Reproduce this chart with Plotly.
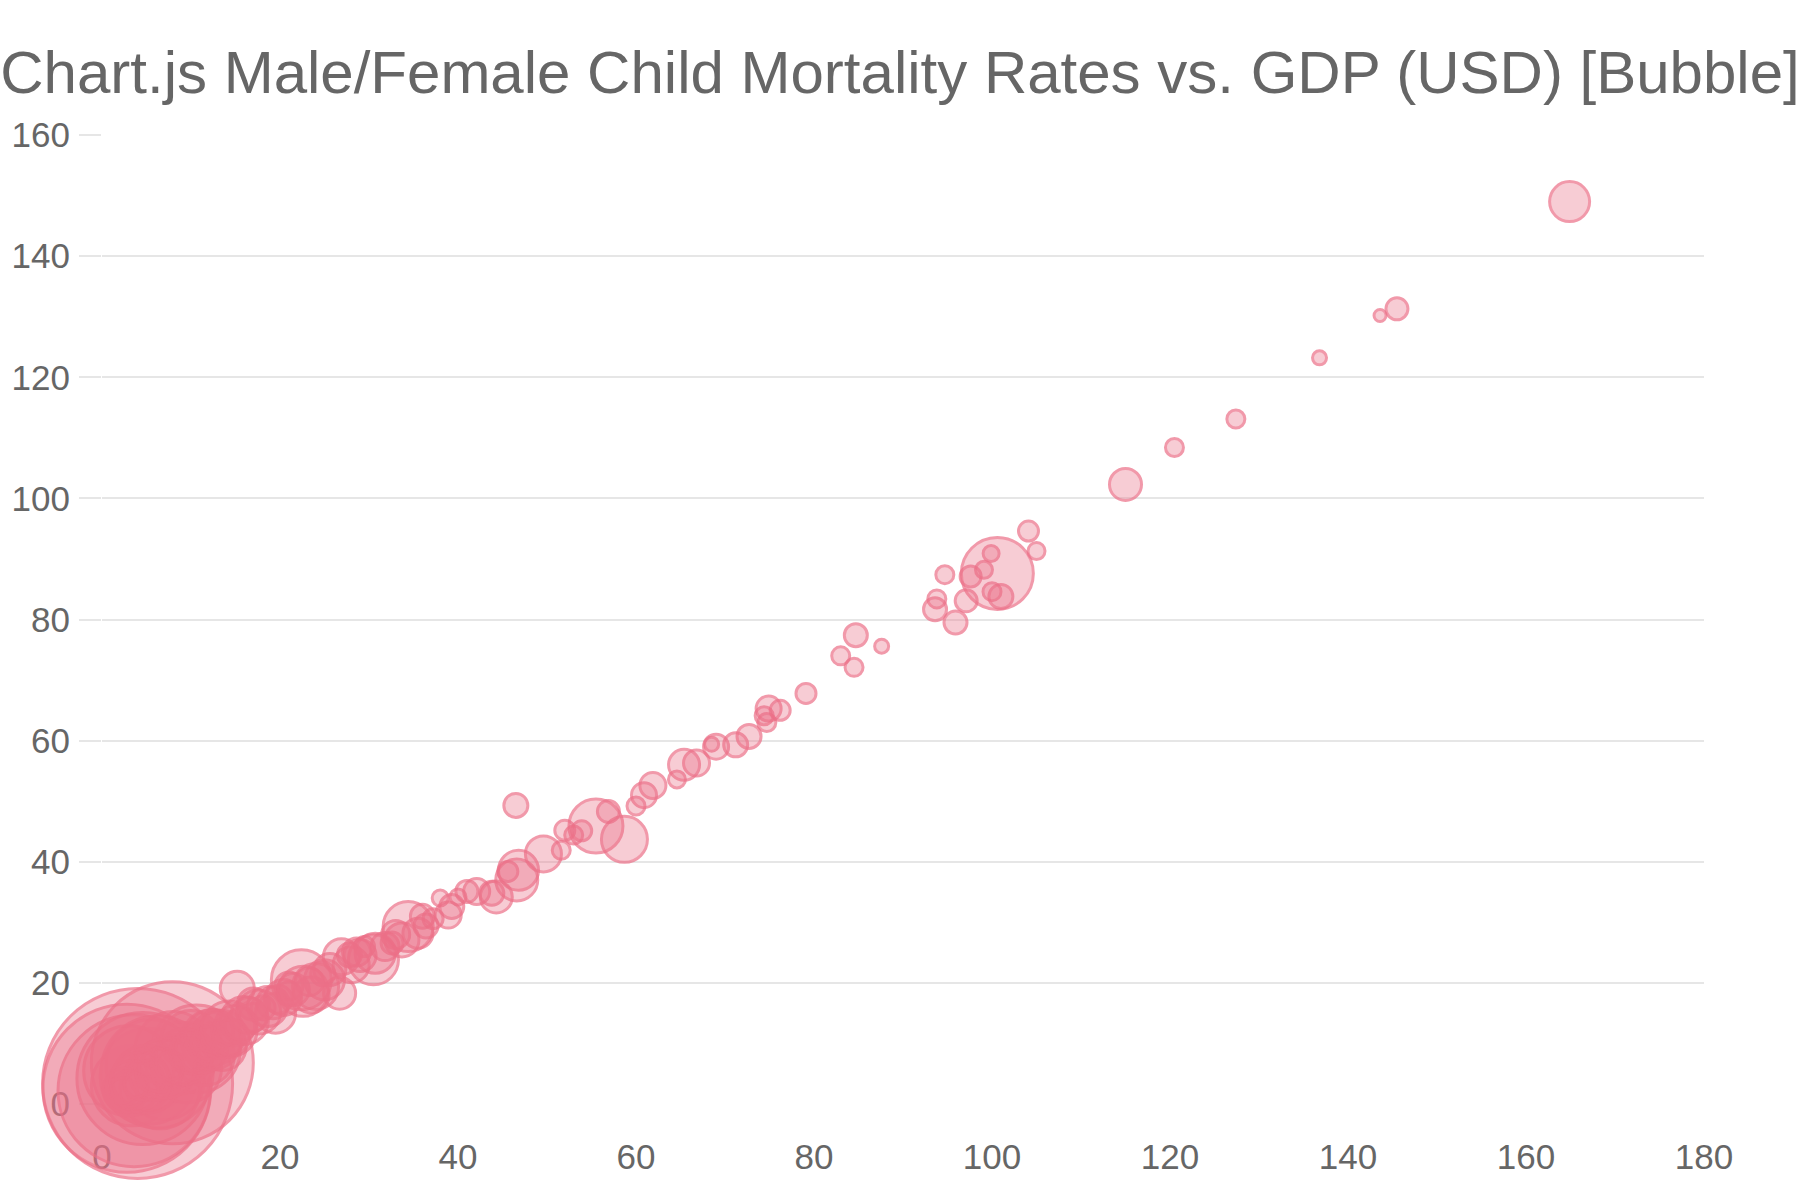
import plotly.graph_objects as go

# ---------------- data ----------------
# x: male child mortality, y: female child mortality, r: bubble radius (GDP scaled)
male_mortality = [
    # huge economies near the origin
    4.0, 2.8, 7.9, 3.6, 4.6, 6.2, 5.2, 10.6, 3.3, 8.8,
    # dense cluster
    5.5, 7.0, 9.5, 8.0, 11.5, 12.5, 6.5, 3.0, 10.0, 13.5,
    2.4, 2.6, 3.0, 3.4, 3.8, 4.3, 4.7, 5.0, 5.6, 6.0,
    6.6, 7.1, 7.6, 8.2, 9.2, 9.7, 10.1, 11.2, 11.8, 12.3,
    12.9, 13.4, 13.9, 14.3, 14.9, 15.6, 16.0, 16.5, 17.0, 17.6,
    18.1, 18.6, 19.2, 19.8, 20.4, 21.0, 21.5, 23.3, 24.8, 25.6,
    27.8, 28.6, 31.8, 32.6, 36.4, 37.2,
    12.5, 14.5, 17.0, 19.5, 21.0, 23.5, 25.0, 28.0, 29.0, 33.0, 36.0,
    # band 15 - 60
    15.2, 22.4, 24.0, 22.6, 26.9, 26.7, 29.5, 30.7, 30.5, 33.7,
    35.5, 34.4, 38.0, 39.3, 38.9, 40.0, 41.0, 42.1, 43.8, 44.3,
    45.6, 46.6, 46.8, 49.6, 51.6, 52.0, 53.0, 53.9, 56.9, 58.7,
    55.5, 46.5, 60.0, 60.9, 61.9, 64.6, 65.4, 66.8, 68.5, 69.0,
    71.2, 72.7, 74.7, 74.4, 76.2, 74.9, 79.1, 84.5, 83.0, 87.6,
    84.7,
    # 90 - 105 group
    101.0, 100.0, 97.1, 95.9, 93.6, 93.8, 94.7, 97.6, 99.1, 99.9,
    100.6, 105.0, 104.1,
    # upper tail
    115.0, 120.5, 127.4, 136.8, 143.6, 145.5, 164.9,
]
female_mortality = [
    3.4, 2.6, 6.8, 2.2, 4.2, 5.3, 4.6, 9.1, 3.0, 7.6,
    6.5, 4.0, 6.0, 9.0, 8.0, 11.0, 2.5, 5.5, 10.5, 9.5,
    2.0, 2.3, 2.5, 2.9, 3.1, 3.6, 3.9, 4.1, 4.7, 4.9,
    5.6, 5.9, 6.3, 7.0, 7.8, 8.0, 8.6, 9.4, 10.1, 10.6,
    10.8, 11.5, 12.0, 12.4, 12.9, 13.2, 13.8, 14.6, 14.3, 15.2,
    15.9, 16.1, 16.7, 17.3, 17.6, 18.2, 18.9, 20.2, 21.5, 22.2,
    24.6, 25.1, 26.0, 26.6, 29.4, 30.6,
    11.8, 11.0, 16.5, 15.0, 19.5, 18.0, 20.5, 23.0, 24.5, 28.0, 31.0,
    19.1, 20.5, 19.4, 18.6, 24.3, 18.3, 26.0, 24.9, 23.8, 27.1,
    28.2, 29.3, 34.0, 32.6, 31.2, 34.2, 35.1, 35.1, 34.8, 34.2,
    38.4, 37.0, 38.6, 41.3, 41.9, 45.2, 44.4, 45.1, 48.3, 43.7,
    45.9, 49.3, 49.2, 51.0, 52.6, 53.6, 56.0, 56.3, 59.4, 59.0,
    59.3, 60.7, 63.0, 64.1, 65.0, 65.3, 67.8, 72.1, 74.0, 75.6,
    77.4,
    83.8, 84.6, 83.1, 79.5, 81.7, 83.4, 87.4, 87.1, 88.2, 90.9,
    87.6, 91.3, 94.6,
    102.3, 108.4, 113.1, 123.2, 130.2, 131.3, 149.0,
]
gdp_radius = [
    95, 84, 81, 76, 66, 56, 48, 44, 40, 36,
    45, 40, 35, 38, 30, 28, 40, 45, 30, 24,
    14, 22, 18, 26, 12, 30, 20, 34, 16, 26,
    22, 30, 14, 24, 28, 18, 22, 26, 16, 30,
    18, 24, 14, 28, 20, 16, 24, 18, 14, 22,
    12, 20, 16, 14, 18, 12, 16, 14, 12, 16,
    12, 14, 14, 11, 12, 10,
    20, 18, 16, 20, 14, 18, 20, 18, 16, 14, 12,
    17, 30, 23, 25, 18, 16, 10, 20, 25, 17,
    15, 25, 8, 12, 13, 8, 11, 13, 12, 16,
    10, 21, 20, 18, 9, 10, 9, 10, 11, 23,
    27, 12, 9, 12.5, 13, 8.5, 15.5, 13, 7, 12.5,
    12, 12, 9, 9, 10, 12.5, 10, 9, 9, 7,
    11.5,
    12, 9, 11, 11.5, 11.5, 9, 9, 10.5, 8.5, 8,
    36, 8.5, 10,
    16, 9, 9, 7, 6, 11, 20,
]

x_ticks = [0, 20, 40, 60, 80, 100, 120, 140, 160, 180]
y_ticks = [0, 20, 40, 60, 80, 100, 120, 140, 160]

title_text = "Chart.js Male/Female Child Mortality Rates vs. GDP (USD) [Bubble]"

# ---------------- figure ----------------
FONT = "Liberation Sans, Arial, Helvetica, sans-serif"
LINE = "rgb(236,111,135)"
FILL = "rgba(236,111,135,0.5)"
GRID = "#e6e6e6"

fig = go.Figure(
    go.Scatter(
        x=male_mortality,
        y=female_mortality,
        mode="markers",
        cliponaxis=False,
        hoverinfo="skip",
        marker=dict(
            size=[2 * r for r in gdp_radius],
            sizemode="diameter",
            color=FILL,
            line=dict(color=LINE, width=3),
        ),
    )
)

fig.update_layout(
    width=1800,
    height=1200,
    margin=dict(l=88, r=96, t=135, b=96),
    paper_bgcolor="white",
    plot_bgcolor="white",
    showlegend=False,
    title=dict(
        text=title_text,
        font=dict(family=FONT, size=60, color="#666666"),
        x=0.5,
        xanchor="center",
        xref="container",
        yref="container",
        y=1 - 72 / 1200,
        yanchor="middle",
    ),
    font=dict(family=FONT, color="#666666"),
)

fig.update_xaxes(
    range=[0, 180],
    tickvals=x_ticks,
    ticktext=[str(v) for v in x_ticks],
    showgrid=False,
    zeroline=False,
    showline=False,
    ticks="outside",
    ticklen=20,
    tickcolor="rgba(0,0,0,0)",
    ticklabelstandoff=2,
    tickfont=dict(family=FONT, size=35, color="#666666"),
    layer="below traces",
    fixedrange=True,
)
fig.update_yaxes(
    range=[0, 160],
    tickvals=y_ticks,
    ticktext=[str(v) for v in y_ticks],
    showgrid=True,
    gridcolor=GRID,
    gridwidth=2,
    zeroline=False,
    showline=False,
    ticks="outside",
    ticklen=22,
    tickwidth=2,
    tickcolor=GRID,
    ticklabelstandoff=2,
    tickfont=dict(family=FONT, size=35, color="#666666"),
    layer="below traces",
    fixedrange=True,
)

fig.write_html(
    "out.html",
    config={"displayModeBar": False},
    post_script="document.body.style.margin='0px';",
)
